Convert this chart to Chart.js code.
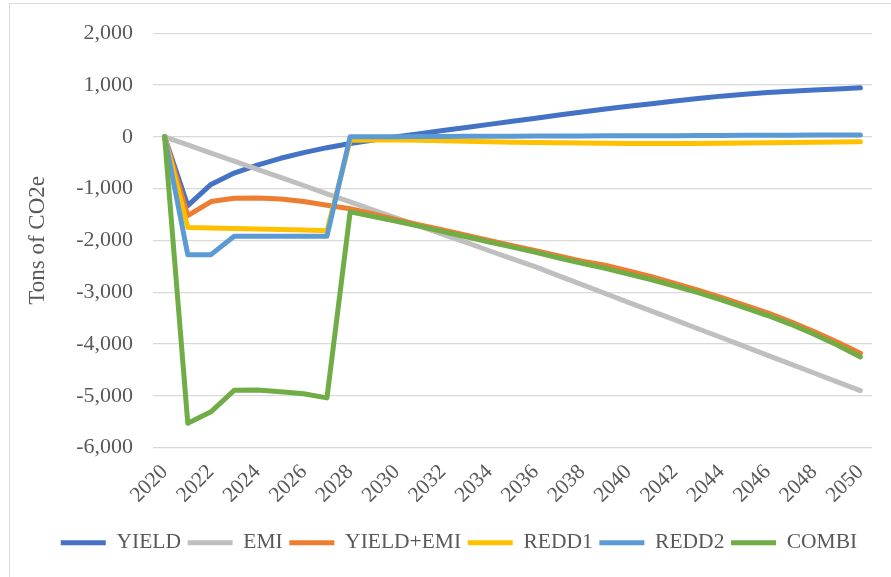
<!DOCTYPE html>
<html>
<head>
<meta charset="utf-8">
<script src="https://cdn.jsdelivr.net/npm/chart.js@4.4.0/dist/chart.umd.min.js"></script>
<style>
  html, body { margin: 0; padding: 0; background: #fff; }
  #frame { position: absolute; left: 9px; top: 3px; width: 900px; height: 600px;
           border-left: 1px solid #d9d9d9; border-top: 1px solid #d9d9d9; }
  #wrap { position: absolute; left: 0; top: 0; width: 891px; height: 577px; }
</style>
</head>
<body>
<div id="frame"></div>
<div id="wrap"><canvas id="co2Chart" width="891" height="577"></canvas></div>
<script>
const years = ['2020','2021','2022','2023','2024','2025','2026','2027','2028','2029','2030',
  '2031','2032','2033','2034','2035','2036','2037','2038','2039','2040',
  '2041','2042','2043','2044','2045','2046','2047','2048','2049','2050'];

// tons of CO2e per scenario
const yieldVals = [0, -1330, -920, -700, -545, -415, -305, -210, -130, -60, 0,
  60, 120, 180, 240, 300, 360, 420, 480, 535, 590,
  640, 690, 740, 785, 820, 855, 880, 905, 925, 945];
const emiVals = [0, -155, -315, -470, -630, -785, -940, -1100, -1255, -1415, -1570,
  -1725, -1885, -2040, -2200, -2355, -2510, -2685, -2855, -3025, -3195,
  -3365, -3535, -3705, -3875, -4045, -4220, -4390, -4560, -4730, -4900];
const yieldEmiVals = [0, -1520, -1250, -1185, -1180, -1200, -1250, -1320, -1390, -1490, -1600,
  -1700, -1800, -1900, -2000, -2100, -2200, -2300, -2400, -2480, -2590,
  -2700, -2830, -2960, -3100, -3250, -3400, -3570, -3760, -3960, -4180];
const redd1Vals = [0, -1750, -1760, -1770, -1780, -1790, -1800, -1815, -65, -60, -60,
  -65, -75, -85, -95, -105, -110, -115, -120, -125, -130,
  -130, -130, -130, -125, -120, -115, -110, -105, -100, -95];
const redd2Vals = [0, -2275, -2275, -1920, -1920, -1920, -1920, -1920, 0, 0, 0,
  5, 5, 10, 10, 10, 15, 15, 15, 20, 20,
  20, 20, 25, 25, 30, 30, 30, 35, 35, 35];
const combiVals = [0, -5530, -5310, -4895, -4890, -4920, -4960, -5040, -1450, -1540, -1630,
  -1730, -1830, -1930, -2030, -2130, -2230, -2340, -2440, -2540, -2650,
  -2760, -2880, -3010, -3150, -3300, -3450, -3620, -3810, -4020, -4250];

const seriesNames = ['YIELD', 'EMI', 'YIELD+EMI', 'REDD1', 'REDD2', 'COMBI'];
const seriesColors = ['#4472C4', '#BFBFBF', '#ED7D31', '#FFC000', '#5B9BD5', '#70AD47'];
const seriesData = [yieldVals, emiVals, yieldEmiVals, redd1Vals, redd2Vals, combiVals];

const yTicks = { min: -6000, max: 2000, step: 1000 };

const serif = 'Liberation Serif, Times New Roman, serif';
const textGray = '#595959';

// later series sit on top, so give them a lower draw order
const datasets = seriesNames.map((name, i) => ({
  label: name,
  data: seriesData[i],
  borderColor: seriesColors[i],
  backgroundColor: seriesColors[i],
  borderWidth: 5,
  borderCapStyle: 'round',
  borderJoinStyle: 'round',
  pointRadius: 0,
  tension: 0,
  fill: false,
  order: seriesNames.length - 1 - i
}));

// left padding nudges the legend row to the right; the y axis makes up the rest
new Chart('co2Chart', {
  type: 'line',
  data: { labels: years, datasets: datasets },
  options: {
    responsive: false,
    animation: false,
    layout: { padding: { top: 31, right: 19, bottom: 13.5, left: 46 } },
    plugins: {
      tooltip: { enabled: false },
      legend: {
        position: 'bottom',
        reverse: true,
        labels: {
          usePointStyle: true,
          pointStyle: 'line',
          pointStyleWidth: 45,
          padding: 6.6,
          color: textGray,
          font: { family: serif, size: 21.5 }
        }
      }
    },
    scales: {
      x: {
        offset: true,
        grid: { display: false, drawTicks: false },
        border: { display: false },
        ticks: {
          autoSkip: false,
          maxRotation: 45,
          minRotation: 45,
          padding: 12,
          color: textGray,
          font: { family: serif, size: 21.5 },
          callback: function (val, idx) {
            return idx % 2 === 0 ? this.getLabelForValue(val) : '';
          }
        },
        afterFit: (scale) => { scale.height = 77.8; }
      },
      y: {
        min: yTicks.min,
        max: yTicks.max,
        grid: { color: '#d9d9d9', lineWidth: 1.3, drawTicks: false },
        border: { display: false },
        ticks: {
          stepSize: yTicks.step,
          padding: 20,
          color: textGray,
          font: { family: serif, size: 22 },
          callback: (v) => v.toLocaleString('en-US')
        },
        title: {
          display: true,
          text: 'Tons of CO2e',
          color: textGray,
          font: { family: serif, size: 23 },
          padding: { top: -21.8, bottom: 0 }
        },
        afterFit: (scale) => { scale.width = 107; }
      }
    }
  }
});
</script>
</body>
</html>
